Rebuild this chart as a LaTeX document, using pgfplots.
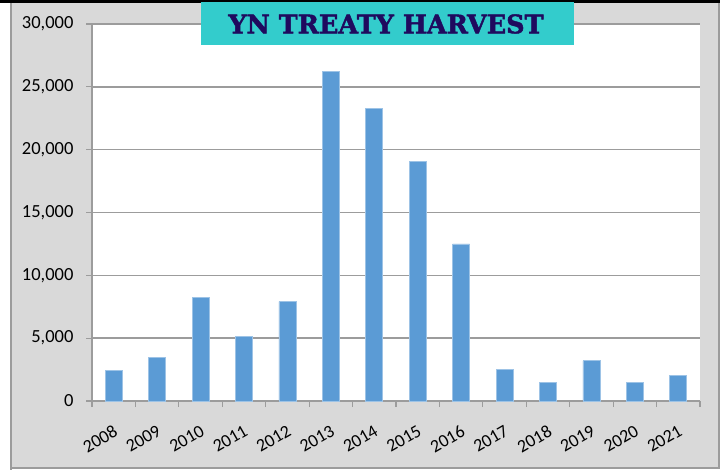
\documentclass[border=0pt]{standalone}
\usepackage{pgfplots}
\pgfplotsset{compat=1.18}
\usepackage{fontspec}
\setmainfont{Carlito}
\newfontfamily\titlefont[FakeBold=1.8]{DejaVu Serif Bold}
\definecolor{barblue}{HTML}{5B9BD5}
\definecolor{baredge}{HTML}{9DC3E6}
\definecolor{chartbg}{HTML}{D9D9D9}
\definecolor{gridgray}{HTML}{9C9C9C}
\definecolor{titleteal}{HTML}{33CCCC}
\definecolor{titlenavy}{HTML}{1F0A5E}

\pgfplotstableread{
idx year value
0  2008 2400
1  2009 3500
2  2010 8250
3  2011 5150
4  2012 7900
5  2013 26250
6  2014 23250
7  2015 19050
8  2016 12500
9  2017 2500
10 2018 1500
11 2019 3200
12 2020 1500
13 2021 2000
}\harvest

\begin{document}
\begin{tikzpicture}[x=1pt,y=1pt]
% page frame
\path (0,0) rectangle (722,470);
\fill[chartbg] (11,2) rectangle (719,468);
\draw[gridgray,line width=1.2pt] (11,0) -- (11,468);
\draw[gridgray,line width=1.2pt] (11,2) -- (719,2) -- (719,468);
\fill[black] (0,467) rectangle (720,470);

\begin{axis}[
    at={(92pt,69pt)}, anchor=south west,
    scale only axis, width=608pt, height=377pt,
    axis background/.style={fill=white},
    xmin=-0.5, xmax=13.5, ymin=0, ymax=30000,
    ytick={0,5000,...,30000},
    xtick={0,...,13},
    xticklabels={2008,2009,2010,2011,2012,2013,2014,2015,2016,2017,2018,2019,2020,2021},
    minor xtick={-0.5,0.5,...,13.5},
    major x tick style={draw=none},
    minor tick length=6pt, major tick length=6pt,
    tick align=outside, tick pos=left,
    axis x line*=bottom, axis y line*=left,
    axis line style={gridgray, line width=1.2pt},
    every tick/.style={gridgray, line width=1.2pt},
    ymajorgrids, major grid style={gridgray, line width=1.5pt},
    /pgf/number format/assume math mode=true,
    /pgf/number format/1000 sep={,},
    scaled y ticks=false,
    yticklabel style={font=\fontsize{18.5}{18.5}\selectfont, text=black, xshift=-9pt},
    xticklabel style={font=\fontsize{18}{18}\selectfont, text=black, rotate=30,
        anchor=north east, xshift=-6pt, yshift=-11pt},
    clip=false,
]
\addplot[ybar, bar width=17pt, fill=barblue, draw=baredge, line width=0.8pt]
    table[x=idx, y=value] {\harvest};
\end{axis}

% title box
\fill[titleteal] (201,425) rectangle (574,468);
\node[font=\titlefont\fontsize{25.5}{25.5}\selectfont, text=titlenavy]
    at (386,446) {YN TREATY HARVEST};
\end{tikzpicture}
\end{document}
